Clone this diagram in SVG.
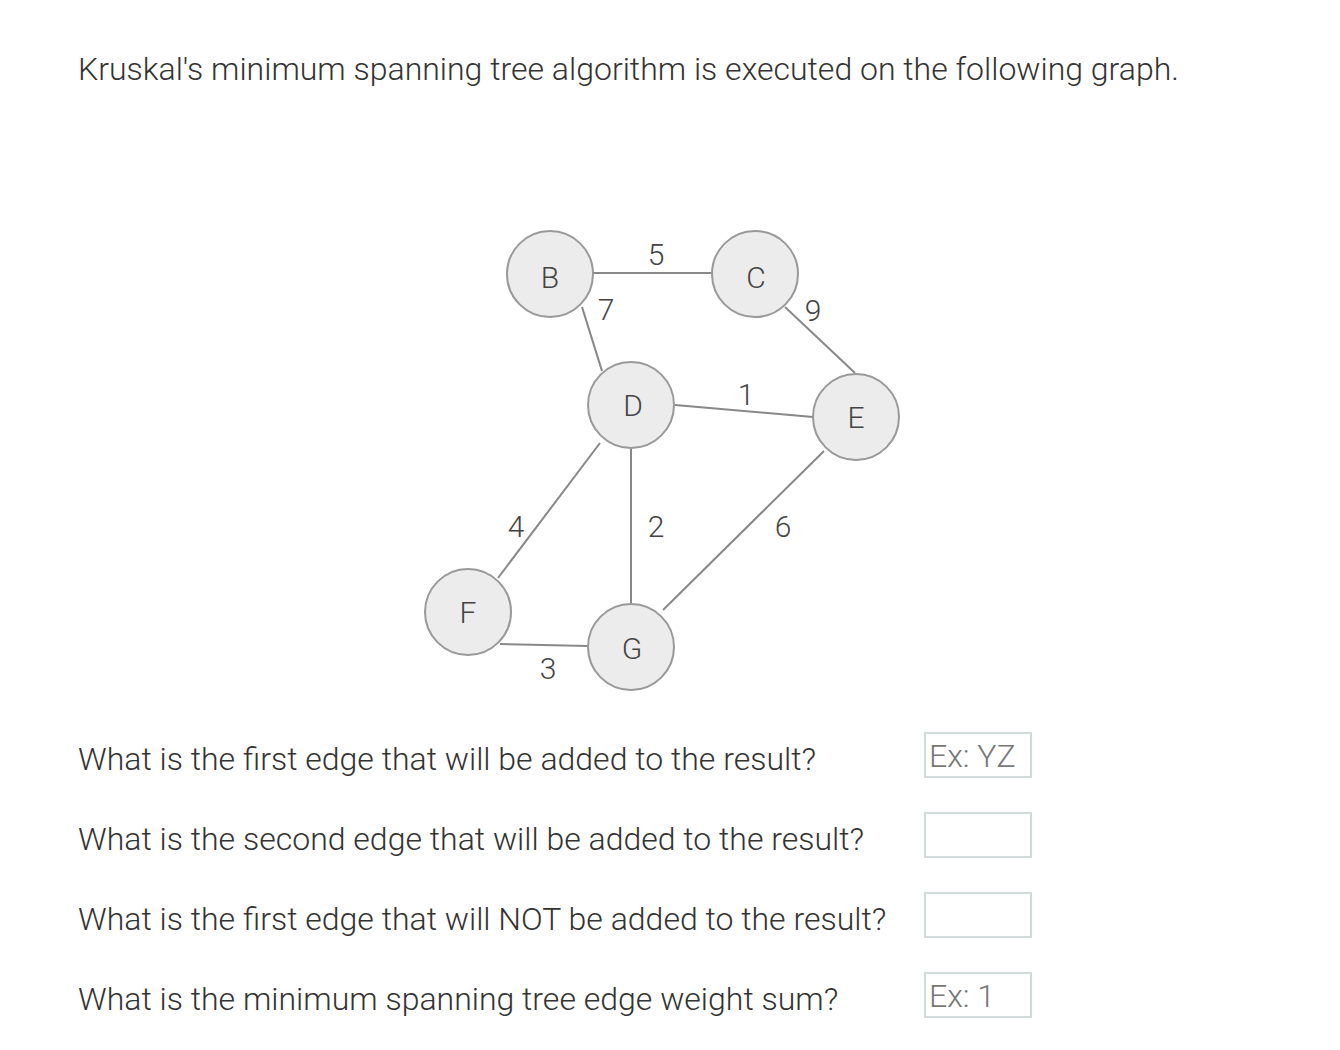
<svg xmlns="http://www.w3.org/2000/svg" width="1340" height="1050" viewBox="0 0 1340 1050">
<style>
text{font-family:Roboto,"Liberation Sans",sans-serif;font-weight:300}
.q{font-size:32px;fill:#333}
.n circle{fill:#ececec;stroke:#999;stroke-width:2}
.n text{font-size:30px;fill:#444;text-anchor:middle}
.e line{stroke:#888;stroke-width:2}
.w{font-size:30px;fill:#444;text-anchor:middle}
.box{fill:#fff;stroke:#d3dadc;stroke-width:2}
.ph{font-size:32px;fill:#777}
</style>
<rect width="1340" height="1050" fill="#fff"/>
<text class="q" x="78" y="80">Kruskal's minimum spanning tree algorithm is executed on the following graph.</text>
<g id="connectors" class="e">
<line x1="593" y1="273" x2="713" y2="273"/>
<line x1="582" y1="307" x2="602" y2="371"/>
<line x1="785" y1="307" x2="855" y2="373"/>
<line x1="675" y1="405" x2="813" y2="417"/>
<line x1="600" y1="443" x2="498" y2="578"/>
<line x1="631" y1="449" x2="631" y2="604"/>
<line x1="824" y1="451" x2="663" y2="610"/>
<line x1="500" y1="644" x2="588" y2="646"/>
</g>
<g id="weights">
<text class="w" x="656" y="265">5</text>
<text class="w" x="606" y="320">7</text>
<text class="w" x="813" y="321">9</text>
<text class="w" x="746" y="405">1</text>
<text class="w" x="516" y="537">4</text>
<text class="w" x="656" y="537">2</text>
<text class="w" x="783" y="537">6</text>
<text class="w" x="548" y="679">3</text>
</g>
<g id="B" class="n"><circle cx="550" cy="274" r="43"/><text x="550" y="288">B</text></g>
<g id="C" class="n"><circle cx="755" cy="274" r="43"/><text x="756" y="288">C</text></g>
<g id="D" class="n"><circle cx="631" cy="405" r="43"/><text x="633" y="416">D</text></g>
<g id="E" class="n"><circle cx="856" cy="417" r="43"/><text x="856" y="428">E</text></g>
<g id="F" class="n"><circle cx="468" cy="612" r="43"/><text x="468" y="623">F</text></g>
<g id="G" class="n"><circle cx="631" cy="647" r="43"/><text x="632" y="659">G</text></g>
<text class="q" x="78" y="770">What is the first edge that will be added to the result?</text>
<text class="q" x="78" y="850">What is the second edge that will be added to the result?</text>
<text class="q" x="78" y="930">What is the first edge that will NOT be added to the result?</text>
<text class="q" x="78" y="1010">What is the minimum spanning tree edge weight sum?</text>
<rect class="box" x="925" y="733" width="106" height="44"/>
<text class="ph" x="929" y="767">Ex: YZ</text>
<rect class="box" x="925" y="813" width="106" height="44"/>
<rect class="box" x="925" y="893" width="106" height="44"/>
<rect class="box" x="925" y="973" width="106" height="44"/>
<text class="ph" x="929" y="1007">Ex: 1</text>
</svg>
